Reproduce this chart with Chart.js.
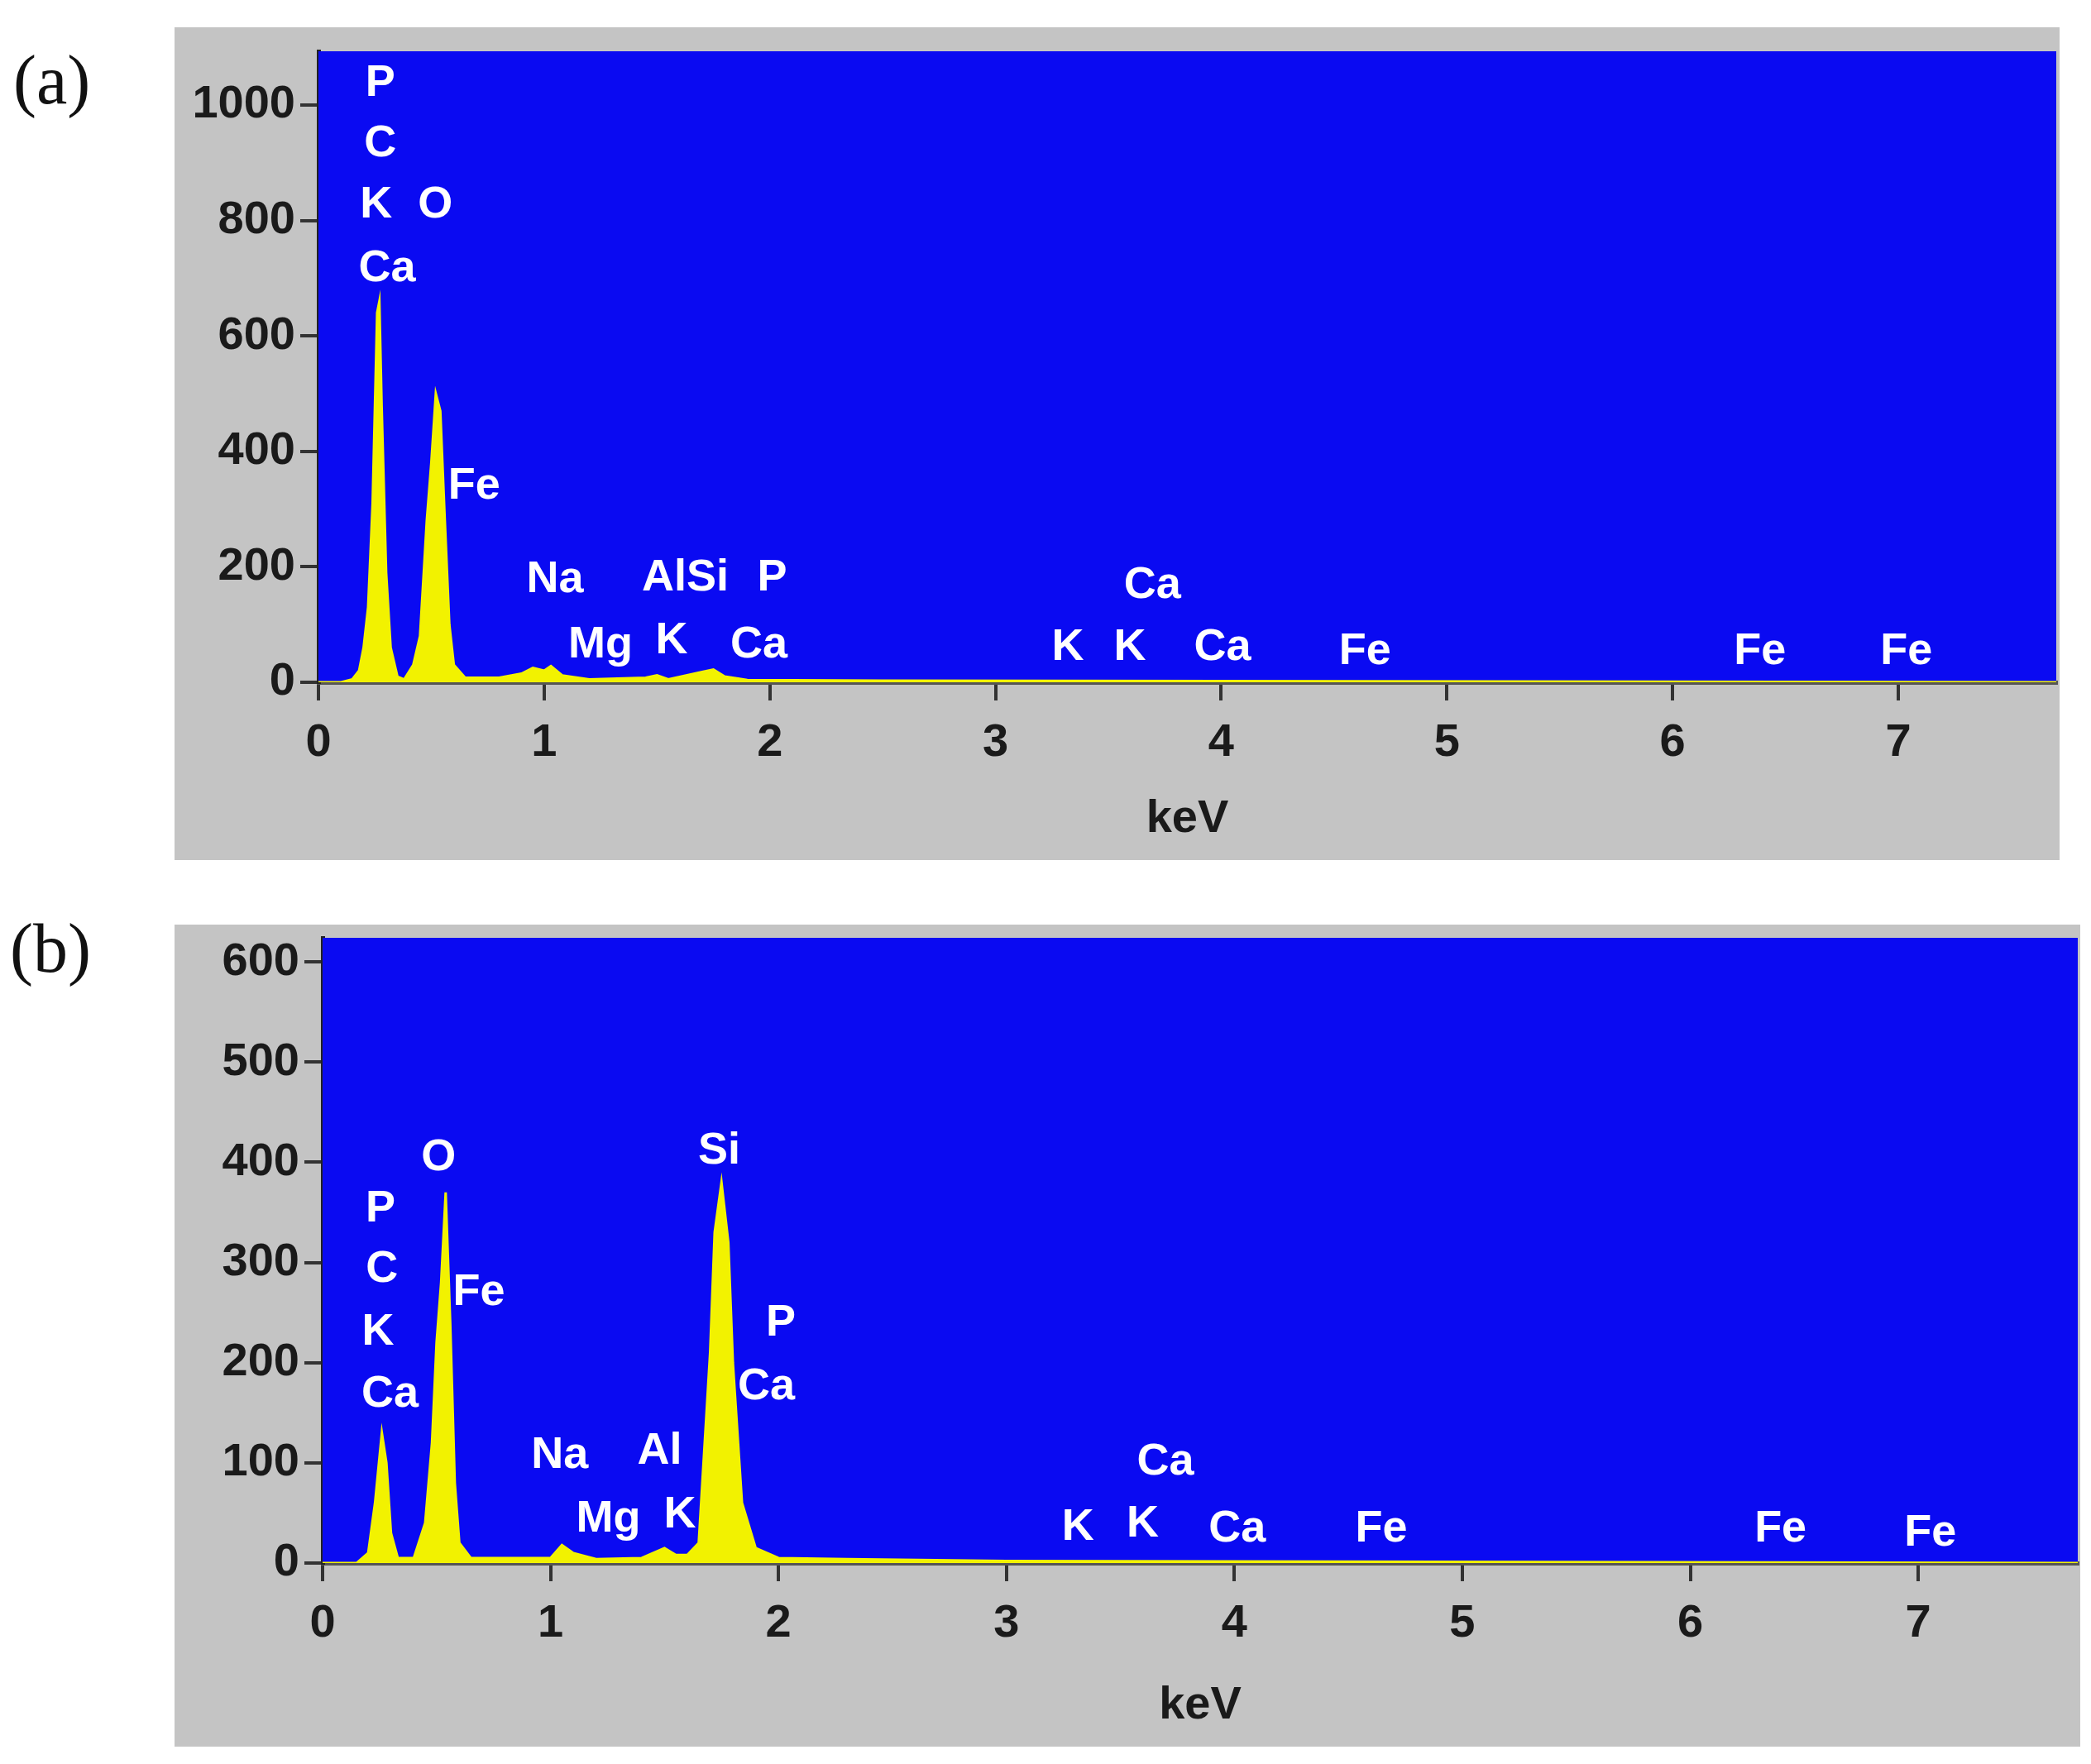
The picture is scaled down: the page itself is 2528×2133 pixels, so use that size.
<!DOCTYPE html>
<html><head><meta charset="utf-8">
<script src="https://cdn.jsdelivr.net/npm/chart.js@4"></script>
<style>
body{margin:0;background:#fff;width:2528px;height:2133px;position:relative;overflow:hidden}
.pl{position:absolute;font-family:"Liberation Serif",serif;font-size:84px;color:#111}
.box{position:absolute;background:#c4c4c4}
</style></head><body>
<div class="pl" style="left:16px;top:48px">(a)</div>
<div class="pl" style="left:12px;top:1098px">(b)</div>
<div class="box" style="left:211px;top:33px;width:2279px;height:1007px"><canvas id="ca"></canvas></div>
<div class="box" style="left:211px;top:1118px;width:2304px;height:994px"><canvas id="cb"></canvas></div>
<script>
// Panel (a) spectrum
const energyA = [0,0.1,0.15,0.18,0.2,0.22,0.24,0.26,0.27,0.28,0.3,0.32,0.35,0.38,0.42,0.45,0.48,0.5,0.52,0.54,0.56,0.58,0.6,0.65,0.8,0.9,0.95,1.0,1.03,1.08,1.2,1.45,1.5,1.55,1.7,1.75,1.8,1.9,2.5,4,7.7];
const countsA = [0,0,5,20,60,130,310,640,660,480,190,60,10,5,30,80,280,380,500,470,280,100,30,8,8,15,25,20,28,12,5,8,12,5,18,22,10,4,3,2,0];
// Panel (b) spectrum
const energyB = [0,0.15,0.2,0.23,0.26,0.28,0.3,0.33,0.4,0.45,0.48,0.5,0.52,0.54,0.56,0.58,0.6,0.65,0.8,1.0,1.05,1.1,1.2,1.4,1.45,1.5,1.55,1.6,1.65,1.7,1.72,1.75,1.78,1.8,1.84,1.9,2.0,2.3,3,7.7];
const countsB = [0,0,10,60,130,100,30,5,5,40,120,220,280,370,240,80,20,5,5,5,18,10,4,5,10,15,8,8,20,210,330,380,320,200,60,15,5,4,2,0];
// Peak labels
const labelsA = ["P","C","K","O","Ca","Fe","Na","AlSi","P","Mg","K","Ca","K","Ca","K","Ca","Fe","Fe","Fe"];
const labelXA = [0.274,0.274,0.256,0.518,0.304,0.69,1.048,1.625,2.01,1.25,1.565,1.952,3.32,3.695,3.595,4.006,4.637,6.387,7.036];
const labelYA = [1037,933,826,826,716,340,177,181,181,65,72,65,60,167,60,60,53,53,53];
const labelsB = ["O","P","C","K","Ca","Fe","Si","P","Ca","Na","Al","Mg","K","Ca","K","K","Ca","Fe","Fe","Fe"];
const labelXB = [0.509,0.254,0.26,0.243,0.296,0.686,1.74,2.01,1.947,1.041,1.479,1.254,1.568,3.698,3.314,3.598,4.012,4.645,6.396,7.053];
const labelYB = [404,353,293,230,168,270,411,239,176,107,111,44,48,101,35,39,34,34,34,30];
const xTicks = [0,1,2,3,4,5,6,7];
const yTicksA = [0,200,400,600,800,1000];
const yTicksB = [0,100,200,300,400,500,600];

const bgPlugin = {id:'bg',beforeDatasetsDraw(c){const a=c.chartArea,x=c.ctx;x.save();x.fillStyle='#0a0af2';x.fillRect(a.left,a.top,a.right-a.left,a.bottom-a.top);x.restore();}};
const lblPlugin = {id:'lbl',afterDatasetsDraw(c,args,o){const x=c.ctx,sx=c.scales.x,sy=c.scales.y;x.save();x.fillStyle='#ffffff';x.font='bold 54px "Liberation Sans", Arial, sans-serif';x.textAlign='center';x.textBaseline='middle';
 o.t.forEach((t,i)=>x.fillText(t,sx.getPixelForValue(o.xs[i]),sy.getPixelForValue(o.ys[i])));x.restore();}};

function make(id,ex,cy,ymax,yt,lt,lx,ly,W,H,left,top,bottom,right){
 const cv=document.getElementById(id);cv.width=W;cv.height=H;cv.style.width=W+'px';cv.style.height=H+'px';
 const tf={family:'"Liberation Sans", Arial, sans-serif',size:56,weight:'bold'};
 new Chart(cv,{type:'line',data:{datasets:[{data:ex.map((e,i)=>({x:e,y:cy[i]})),borderColor:'#f2f200',backgroundColor:'#f2f200',fill:'origin',borderWidth:3,pointRadius:0,tension:0}]},
 plugins:[bgPlugin,lblPlugin],
 options:{responsive:false,animation:false,devicePixelRatio:1,layout:{padding:{top:top,right:right,left:0,bottom:0}},
  plugins:{legend:{display:false},tooltip:{enabled:false},lbl:{t:lt,xs:lx,ys:ly}},
  scales:{
   x:{type:'linear',min:0,max:7.7,afterFit(s){s.height=bottom;s.paddingLeft=0;s.paddingRight=0;},afterBuildTicks(s){s.ticks=xTicks.map(v=>({value:v}));},
      ticks:{color:'#1a1a1a',font:tf,padding:18,callback:v=>String(v)},grid:{drawOnChartArea:false,drawTicks:true,tickLength:22,color:'#333',lineWidth:4},
      border:{color:'#555',width:5},title:{display:true,text:'keV',color:'#1a1a1a',font:tf,padding:{top:6,bottom:16}}},
   y:{type:'linear',min:0,max:ymax,afterFit(s){s.width=left;s.paddingTop=0;s.paddingBottom=0;},afterBuildTicks(s){s.ticks=yt.map(v=>({value:v}));},
      ticks:{color:'#1a1a1a',font:tf,padding:6,callback:v=>String(v)},grid:{drawOnChartArea:false,drawTicks:true,tickLength:22,color:'#333',lineWidth:4},
      border:{color:'#222',width:5}}
  }}});
}
make('ca',energyA,countsA,1093,yTicksA,labelsA,labelXA,labelYA,2279,1007,174,29,215,4);
make('cb',energyB,countsB,624,yTicksB,labelsB,labelXB,labelYB,2304,994,179,16,222,3);
</script></body></html>
